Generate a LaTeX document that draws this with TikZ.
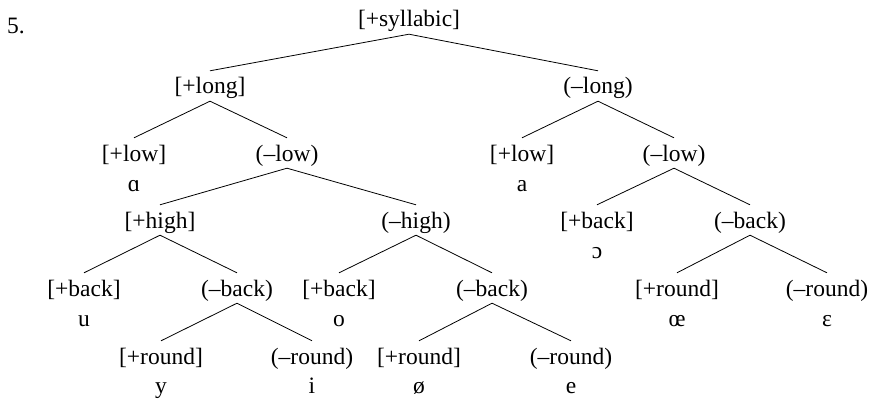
\documentclass[tikz,border=0pt]{standalone}
\usepackage{fontspec}
\setmainfont{Liberation Serif}
\begin{document}
\begin{tikzpicture}[x=1pt,y=-1pt,
  feat/.style={anchor=base,inner sep=3pt,text height=20pt,text depth=4pt,font=\fontsize{23.5}{27}\selectfont},
  seg/.style={anchor=base,inner sep=0pt,font=\fontsize{23.5}{27}\selectfont},
  branch/.style={draw=black,line width=0.8pt}]
\useasboundingbox (0,0) rectangle (874,401);
\node[seg,anchor=base west] (num) at (7,34) {5.};
% row 1
\node[feat] (s) at (409,27) {[+syllabic]};
% row 2
\node[feat] (L) at (210,94) {[+long]};
\node[feat] (nL) at (598,94) {(–long)};
% row 3
\node[feat] (Llow) at (134,161) {[+low]};
\node[seg] (p1) at (134,191) {ɑ};
\node[feat] (Lnlow) at (287,161) {(–low)};
\node[feat] (Rlow) at (522,161) {[+low]};
\node[seg] (p2) at (522,191) {a};
\node[feat] (Rnlow) at (674,161) {(–low)};
% row 4
\node[feat] (high) at (160,228) {[+high]};
\node[feat] (nhigh) at (416,228) {(–high)};
\node[feat] (Rback) at (597,228) {[+back]};
\node[seg] (p3) at (597,258) {ɔ};
\node[feat] (Rnback) at (750,228) {(–back)};
% row 5
\node[feat] (hback) at (84,296) {[+back]};
\node[seg] (p4) at (84,326) {u};
\node[feat] (hnback) at (237,296) {(–back)};
\node[feat] (mback) at (339,296) {[+back]};
\node[seg] (p5) at (339,326) {o};
\node[feat] (mnback) at (492,296) {(–back)};
\node[feat] (Rround) at (677,296) {[+round]};
\node[seg] (p6) at (677,326) {œ};
\node[feat] (Rnround) at (827,296) {(–round)};
\node[seg] (p7) at (827,326) {ɛ};
% row 6
\node[feat] (r1) at (161,364) {[+round]};
\node[seg] (p8) at (161,393) {y};
\node[feat] (r2) at (312,364) {(–round)};
\node[seg] (p9) at (312,393) {i};
\node[feat] (r3) at (419,364) {[+round]};
\node[seg] (p10) at (419,393) {ø};
\node[feat] (r4) at (571,364) {(–round)};
\node[seg] (p11) at (571,393) {e};
% branches
\draw[branch] (L.north) -- (s.south) -- (nL.north);
\draw[branch] (Llow.north) -- (L.south) -- (Lnlow.north);
\draw[branch] (Rlow.north) -- (nL.south) -- (Rnlow.north);
\draw[branch] (high.north) -- (Lnlow.south) -- (nhigh.north);
\draw[branch] (Rback.north) -- (Rnlow.south) -- (Rnback.north);
\draw[branch] (hback.north) -- (high.south) -- (hnback.north);
\draw[branch] (mback.north) -- (nhigh.south) -- (mnback.north);
\draw[branch] (Rround.north) -- (Rnback.south) -- (Rnround.north);
\draw[branch] (r1.north) -- (hnback.south) -- (r2.north);
\draw[branch] (r3.north) -- (mnback.south) -- (r4.north);
\end{tikzpicture}
\end{document}
